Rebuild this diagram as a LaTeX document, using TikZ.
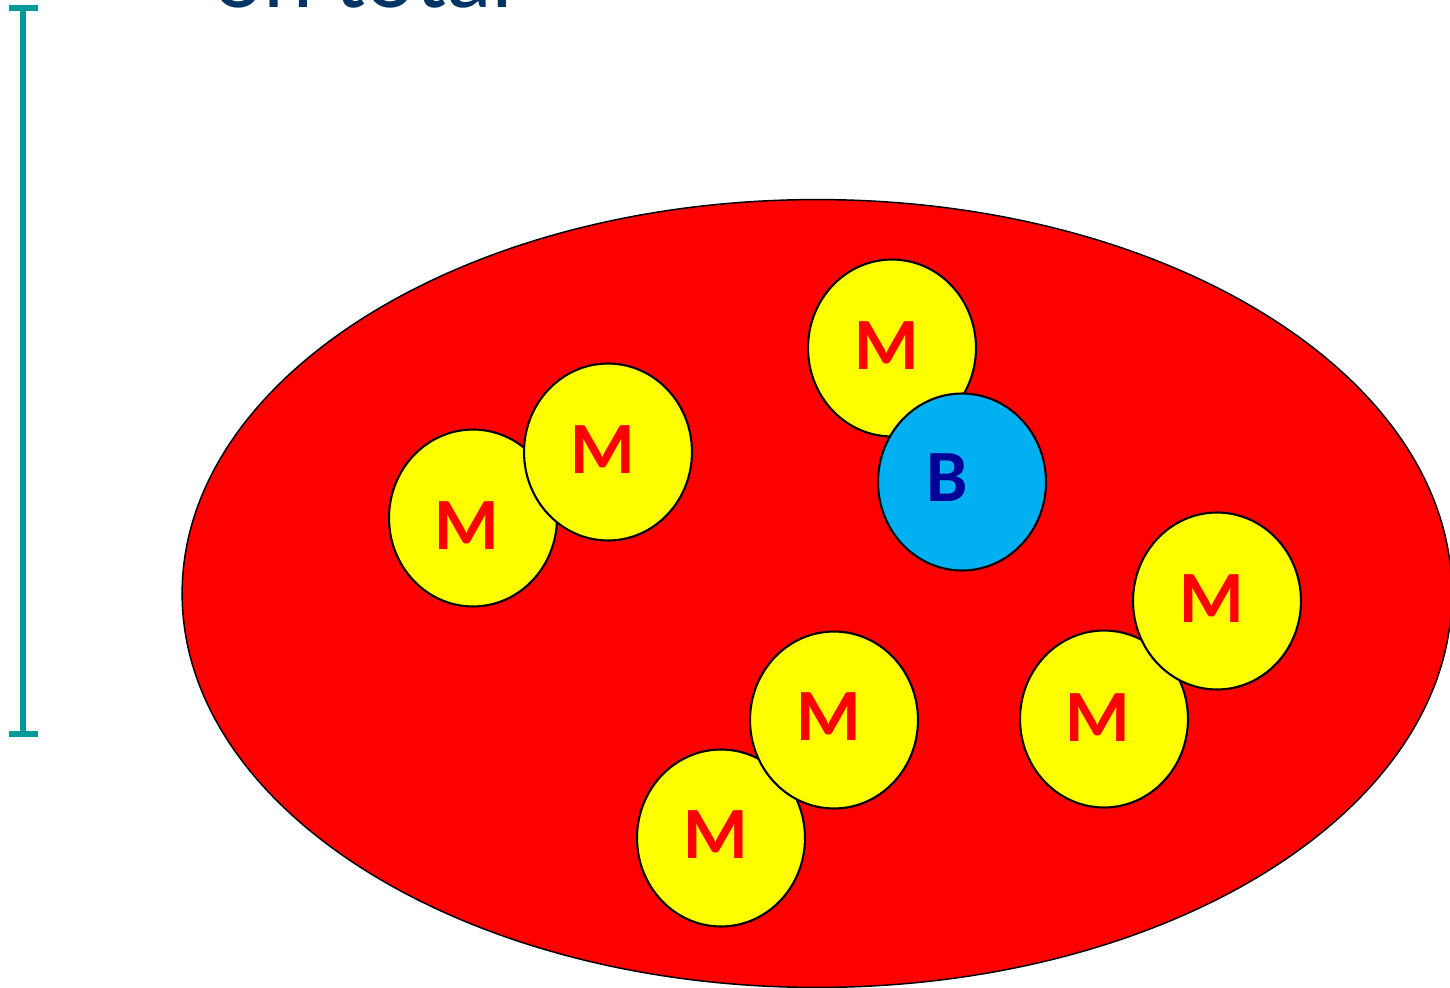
\documentclass[tikz,border=0pt]{standalone}
\usepackage{fontspec}
\setmainfont{Carlito}
\usetikzlibrary{shapes.geometric}
\definecolor{mred}{RGB}{255,0,0}
\definecolor{myel}{RGB}{255,255,0}
\definecolor{bblue}{RGB}{0,176,240}
\definecolor{bdark}{RGB}{0,0,153}
\definecolor{teal2}{RGB}{0,153,153}
\definecolor{titleblue}{RGB}{0,51,102}
\tikzset{
  ball/.style={ellipse, draw=black, line width=1.2pt, minimum width=3.36cm, minimum height=3.54cm, inner sep=0pt},
  mball/.style={ball, fill=myel},
  bball/.style={ball, fill=bblue},
  ltr/.style={inner sep=0pt, font=\fontsize{42}{48}\selectfont\bfseries},
  mtxt/.style={ltr, text=mred},
  btxt/.style={ltr, text=bdark},
  barline/.style={draw=teal2, line width=0.12cm},
  barcap/.style={draw=teal2, line width=0.13cm}
}
\begin{document}
\begin{tikzpicture}[x=0.02cm,y=-0.02cm]
\useasboundingbox (0,0) rectangle (1450,987);
\clip (0,0) rectangle (1450,987);
\fill[white] (0,0) rectangle (1450,987);
% title (cut off at the top edge, as in the reference)
\node[anchor=base west, inner sep=0pt, text=titleblue, font=\fontsize{54}{60}\selectfont] (title) at (213,8) {on total};
% bar
\coordinate (bt) at (23,8);
\coordinate (bb) at (23,734);
\coordinate (btl) at (9,8);
\coordinate (btr) at (38,8);
\coordinate (bbl) at (9,734);
\coordinate (bbr) at (38,734);
\draw[barline] (bt) -- (bb);
\draw[barcap] (btl) -- (btr);
\draw[barcap] (bbl) -- (bbr);
% big ellipse
\node[ellipse, draw=black, line width=0.85pt, fill=mred, minimum width=25.4cm, minimum height=15.76cm, inner sep=0pt] (big) at (817,593.5) {};
% balls
\node[mball] (m1) at (473,518) {};
\node[mtxt] (t1) at (467,526) {M};
\node[mball] (m2) at (608,452) {};
\node[mtxt] (t2) at (603,450) {M};
\node[mball] (m3) at (892,348) {};
\node[mtxt] (t3) at (887,346) {M};
\node[bball] (b) at (962,482) {};
\node[btxt] (tb) at (947,478) {B};
\node[mball] (m4) at (1104,719) {};
\node[mtxt] (t4) at (1098,718) {M};
\node[mball] (m5) at (1217,601) {};
\node[mtxt] (t5) at (1212,599) {M};
\node[mball] (m6) at (721,838) {};
\node[mtxt] (t6) at (716,835) {M};
\node[mball] (m7) at (834,720) {};
\node[mtxt] (t7) at (829,717) {M};
\end{tikzpicture}
\end{document}
